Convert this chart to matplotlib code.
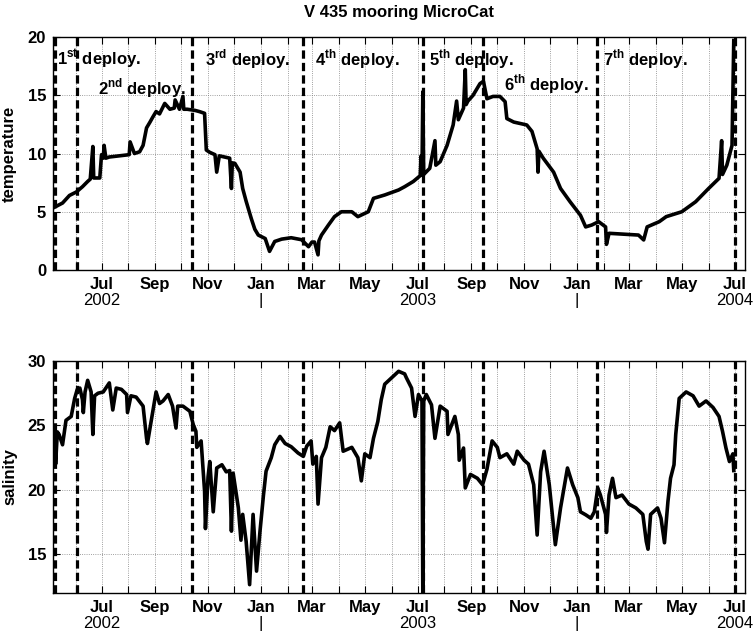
import numpy as np
import matplotlib
matplotlib.use("Agg")
import matplotlib.pyplot as plt
import matplotlib.dates as mdates
from matplotlib.ticker import FuncFormatter

plt.rcParams['font.family'] = ['Liberation Sans', 'DejaVu Sans']
plt.rcParams['font.weight'] = 'bold'
plt.rcParams['font.size'] = 12
plt.rcParams['mathtext.fontset'] = 'custom'
plt.rcParams['mathtext.rm'] = 'Liberation Sans:bold'
plt.rcParams['mathtext.bf'] = 'Liberation Sans:bold'

# days counted from 2002-05-01
t0 = np.datetime64('2002-05-01')

temp_day = [7, 16, 24, 32, 39, 45, 48, 51, 52, 59, 61, 63, 64, 66, 70, 82, 93, 94,
            99, 105, 109, 113, 117, 120, 124, 128, 134, 140, 145, 146, 151, 155,
            156, 160, 169, 174, 180, 182, 186, 192, 194, 197, 203, 209, 211, 212,
            215, 221, 224, 228, 234, 238, 242, 250, 255, 261, 269, 280, 292, 300,
            304, 307, 311, 312, 315, 323, 330, 338, 350, 357, 369, 375, 388, 404,
            411, 421, 429, 430, 431, 432, 433, 440, 446, 447, 452, 460, 467, 471,
            473, 479, 481, 482, 484, 490, 498, 502, 506, 513, 521, 527, 529, 537,
            552, 558, 564, 565, 566, 571, 583, 591, 602, 614, 620, 627, 635, 643,
            644, 647, 666, 681, 687, 691, 705, 713, 731, 747, 762, 774, 777, 778,
            783, 789, 791]
temp_val = [5.4, 5.75, 6.4, 6.7, 7.15, 7.6, 7.8, 10.6, 7.9, 7.9, 9.9, 9.6, 10.7, 9.6,
            9.7, 9.8, 9.9, 11.0, 10.0, 10.15, 10.7, 12.2, 12.7, 13.1, 13.6, 13.4,
            14.3, 13.8, 13.9, 14.6, 13.8, 14.9, 13.8, 13.8, 13.7, 13.6, 13.45, 10.3,
            10.1, 9.9, 8.4, 9.8, 9.7, 9.6, 7.0, 9.2, 9.15, 8.4, 7.0, 5.9, 4.4, 3.5,
            3.0, 2.7, 1.6, 2.45, 2.65, 2.77, 2.6, 2.0, 2.4, 2.4, 1.3, 2.5, 3.0,
            3.86, 4.58, 5.0, 5.0, 4.58, 5.0, 6.15, 6.44, 6.87, 7.15, 7.6, 8.1,
            9.8, 8.15, 15.3, 8.2, 8.73, 11.1, 9.0, 9.3, 10.7, 12.45, 14.5, 12.9,
            13.9, 17.2, 14.2, 14.5, 15.0, 16.0, 16.2, 14.7, 14.9, 14.9, 14.45,
            13.0, 12.7, 12.45, 11.9, 10.4, 8.4, 10.2, 9.6, 8.4, 7.0, 5.86, 4.7,
            3.7, 3.86, 4.15, 3.7, 2.2, 3.15, 3.07, 3.0, 2.58, 3.7, 4.15, 4.58, 5.0,
            5.86, 7.0, 7.87, 11.1, 8.2, 9.0, 10.7, 19.7]

sal_day = [7, 8, 10, 12, 16, 20, 26, 30, 33, 36, 39, 40, 42, 45, 49, 51, 53, 57, 63,
           70, 74, 78, 84, 90, 91, 95, 101, 109, 113, 114, 117, 124, 128, 132, 138,
           143, 147, 149, 155, 163, 167, 170, 171, 176, 180, 181, 184, 186, 190,
           194, 200, 205, 209, 211, 213, 219, 222, 224, 228, 232, 236, 240, 244,
           248, 251, 257, 261, 267, 273, 280, 288, 294, 298, 303, 305, 309, 311,
           315, 320, 325, 330, 336, 340, 350, 357, 361, 365, 371, 375, 380, 384,
           388, 396, 404, 411, 413, 419, 423, 427, 431, 432, 433, 436, 442, 446,
           452, 460, 461, 469, 473, 474, 479, 481, 487, 495, 501, 506, 512, 518,
           521, 529, 537, 541, 549, 554, 560, 564, 568, 572, 578, 585, 591, 599,
           605, 611, 614, 620, 626, 630, 634, 637, 643, 644, 647, 651, 655, 662,
           670, 678, 686, 690, 692, 695, 703, 707, 711, 715, 718, 722, 724, 728,
           736, 744, 751, 759, 767, 774, 778, 782, 786, 790, 791]
sal_val = [24.8, 22.0, 24.5, 24.3, 23.5, 25.4, 25.7, 27.1, 27.8, 27.9, 27.0, 26.0,
           27.6, 28.5, 27.6, 24.3, 27.3, 27.5, 27.6, 28.3, 26.2, 27.9, 27.8, 27.4,
           26.0, 27.3, 27.2, 26.5, 24.0, 23.6, 24.8, 27.6, 26.7, 26.9, 27.4, 26.5,
           24.8, 26.5, 26.5, 26.1, 25.05, 24.55, 23.3, 23.8, 19.9, 17.0, 21.0,
           22.2, 18.3, 21.7, 21.95, 21.4, 21.5, 16.8, 21.3, 18.6, 16.1, 18.1, 16.0,
           12.65, 18.1, 13.7, 16.8, 19.6, 21.45, 22.5, 23.5, 24.15, 23.6, 23.35,
           22.86, 22.6, 23.4, 23.8, 22.0, 22.6, 18.9, 22.5, 23.3, 24.9, 24.6, 25.2,
           23.0, 23.3, 22.5, 20.7, 22.8, 22.5, 24.0, 25.3, 27.0, 28.2, 28.7, 29.2,
           29.0, 28.7, 27.9, 25.7, 27.4, 26.9, 11.5, 26.9, 27.4, 26.6, 24.0, 26.5,
           26.1, 24.3, 25.7, 24.3, 22.3, 23.25, 20.15, 21.2, 20.9, 20.4, 21.6,
           23.8, 23.3, 22.5, 22.8, 22.0, 23.0, 22.3, 22.0, 20.4, 16.5, 21.4, 23.0,
           20.4, 15.75, 18.6, 21.7, 20.4, 19.4, 18.3, 18.07, 17.8, 18.3, 20.15,
           19.6, 18.1, 16.7, 19.6, 20.9, 19.4, 19.6, 18.9, 18.6, 18.1, 16.0, 15.4,
           18.1, 18.6, 17.8, 15.9, 19.1, 20.9, 21.95, 24.3, 27.1, 27.6, 27.3, 26.5,
           26.9, 26.4, 25.7, 24.55, 23.25, 22.2, 22.8, 21.5]

deploy_dates = ['2002-05-08', '2002-06-03', '2002-10-14', '2003-02-19',
                '2003-07-07', '2003-09-15', '2004-01-24', '2004-07-01']
deploy_labels = [r'1$^{\mathbf{st}}$ deploy.', r'2$^{\mathbf{nd}}$ deploy.',
                 r'3$^{\mathbf{rd}}$ deploy.', r'4$^{\mathbf{th}}$ deploy.',
                 r'5$^{\mathbf{th}}$ deploy.', r'6$^{\mathbf{th}}$ deploy.',
                 r'7$^{\mathbf{th}}$ deploy.']
label_day = [10, 57, 181, 307, 439, 526, 640]
label_y = [17.55, 15.1, 17.55, 17.55, 17.55, 15.4, 17.55]

years = [('2002-07-01', '2002'), ('2003-01-01', '|'), ('2003-07-01', '2003'),
         ('2004-01-01', '|'), ('2004-07-01', '2004')]

def to_dates(days):
    return t0 + np.array(days, dtype='timedelta64[D]')

fig = plt.figure(figsize=(7.53, 6.35), dpi=100)
ax1 = fig.add_axes([0.0704, 0.5748, 0.919, 0.3669])
ax2 = fig.add_axes([0.0704, 0.0661, 0.919, 0.3654])

month_fmt = FuncFormatter(
    lambda x, pos: mdates.num2date(x).strftime('%b') if mdates.num2date(x).month % 2 == 1 else '')

for ax, days, vals, ylim, yticks, ylab in [
        (ax1, temp_day, temp_val, (0, 20), [0, 5, 10, 15, 20], 'temperature'),
        (ax2, sal_day, sal_val, (12, 30), [15, 20, 25, 30], 'salinity')]:
    ax.plot(to_dates(days), vals, color='black', lw=2.6, solid_joinstyle='round')
    for d in deploy_dates:
        ax.axvline(np.datetime64(d), color='black', lw=2.3, dashes=(2.6, 1.3))
    ax.set_xlim(np.datetime64('2002-05-06'), np.datetime64('2004-07-13'))
    ax.set_ylim(*ylim)
    ax.set_yticks(yticks)
    ax.xaxis.set_major_locator(mdates.MonthLocator())
    ax.xaxis.set_major_formatter(month_fmt)
    ax.tick_params(direction='in', top=True, right=True, length=5, width=0.8,
                   labelsize=12, pad=5)
    ax.grid(True, color='0.5', ls=':', lw=0.6)
    ax.set_axisbelow(True)
    for s in ax.spines.values():
        s.set_linewidth(1.0)
    ax.set_ylabel(ylab, fontsize=12, fontweight='bold')
    ax.yaxis.set_label_coords(-0.052, 0.5)
    for d, txt in years:
        ax.text(np.datetime64(d), -0.13, txt, transform=ax.get_xaxis_transform(),
                ha='center', va='center', fontsize=12, fontweight='normal')

for lab, d, y in zip(deploy_labels, label_day, label_y):
    ax1.text(t0 + np.timedelta64(d, 'D'), y, lab, ha='left', va='baseline',
             fontsize=12, fontweight='bold')

fig.text(0.53, 0.981, 'V 435 mooring MicroCat', ha='center', va='center',
         fontsize=12, fontweight='bold')

fig.savefig('out.png', dpi=100)
